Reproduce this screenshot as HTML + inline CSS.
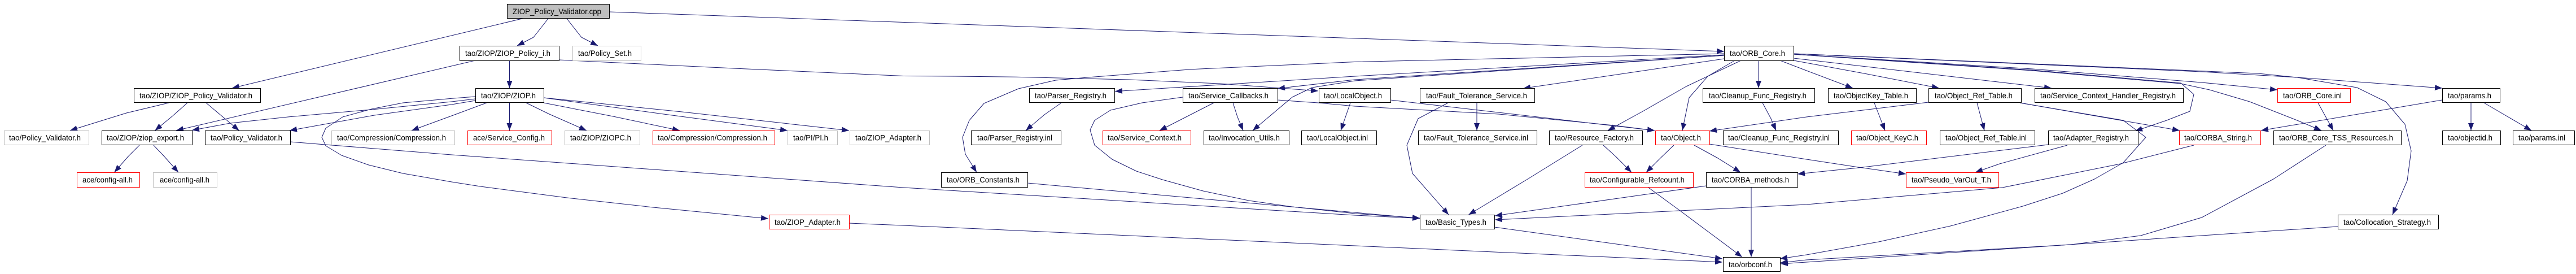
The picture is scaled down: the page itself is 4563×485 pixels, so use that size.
<!DOCTYPE html>
<html><head><meta charset="utf-8"><title>ZIOP_Policy_Validator.cpp include graph</title>
<style>
html,body{margin:0;padding:0;background:#fff}
svg{display:block}
.e polyline{fill:none;stroke:#191970;stroke-width:1;marker-end:url(#a);stroke-linejoin:round}
.k rect{fill:#fff;stroke:#000;stroke-width:1;shape-rendering:crispEdges}
.r rect{fill:#fff;stroke:#f00;stroke-width:1;shape-rendering:crispEdges}
.g rect{fill:#fff;stroke:#bfbfbf;stroke-width:1;shape-rendering:crispEdges}
text{font-family:"Liberation Sans",sans-serif;font-size:14px;fill:#000}
</style></head><body>
<svg xmlns="http://www.w3.org/2000/svg" width="4563" height="485" viewBox="0 0 4563 485">
<defs><marker id="a" markerUnits="userSpaceOnUse" markerWidth="14" markerHeight="11" refX="13" refY="5" orient="auto"><path d="M0,0L13,5L0,10Z" fill="#191970"/></marker></defs>
<rect width="4563" height="485" fill="#fff"/>
<g class="e">
<polyline points="929,32 411,156"/>
<polyline points="971,33 945,66 916,81"/>
<polyline points="1004,33 1030,66 1059,81"/>
<polyline points="1079,21 3054,91"/>
<polyline points="842,107 312,231"/>
<polyline points="902.5,107 902.5,156"/>
<polyline points="990,106 1300,121 1600,134.5 1691,135 1800,136.3 2000,141 2161,148 2335,161"/>
<polyline points="299,182 224,200 124,231"/>
<polyline points="332,182 306,205 274.5,231"/>
<polyline points="365,182 390,203 423.5,231"/>
<polyline points="247,257 227,277 202.5,305"/>
<polyline points="272,257 291,277 316,305"/>
<polyline points="514,251 800,274 1600,332 2400,381 2515,386.5"/>
<polyline points="1820,324 2515,386.5"/>
<polyline points="2095,172 2023,182 1967,195 1939,213 1931,230 1939,257 1970,282 2013,303 2059,318 2131,338 2212,355 2289,366 2400,378 2515,386"/>
<polyline points="842,175 800,180 658,194 510,207 408,218 354,228 340,230.5"/>
<polyline points="842,178 800,185 663,204 513,231"/>
<polyline points="842,171 800,174.3 714,182 658,193 607,207 577,227 570,243 577,258 605,275 653,292 714,307 800,322 851,330 1004,350 1157,367 1361,387"/>
<polyline points="862,182 800,205 729,231"/>
<polyline points="902.5,182 902.5,231"/>
<polyline points="932,182 973,202 1039,231"/>
<polyline points="963,182 1086,206 1204,231"/>
<polyline points="963,173 1183,203 1395,231"/>
<polyline points="963,173 1208,198 1504,231"/>
<polyline points="3054,104 2698,156.5"/>
<polyline points="3054,95 2400,109.5 2110,122.7 1926.5,137 1870,142 1804,157 1743,183 1717,213 1705,243 1710,273 1730,305"/>
<polyline points="3054,97 2400,135 2161,150 1975,161.7"/>
<polyline points="3054,98 2400,141 2263,156.7"/>
<polyline points="3054,98 2400,143 2324,155 2289,172 2219,231"/>
<polyline points="3084,107 2987,153 2910,197 2848,231"/>
<polyline points="3073,107 3025,135 2992,173 2980,231"/>
<polyline points="3115,107 3115,156"/>
<polyline points="3153,107 3200,125 3282,156"/>
<polyline points="3177,107 3302,130 3435,156"/>
<polyline points="3177,103 3634,156"/>
<polyline points="3177,96 3600,122 3900,146 4034,159"/>
<polyline points="3177,96 3600,125 3863,148 3914,159 3985,180 4069,213 4112,231"/>
<polyline points="3177,96 3600,124 3863,147 3886,167 3879,197 3838,213 3782,232"/>
<polyline points="3177,95 4000,130 4069,137 4326,156"/>
<polyline points="3177,95 3900,127 4069,137 4175,155 4226,180 4260,220 4271,267 4264,320 4238,380"/>
<polyline points="3578,182 3861,231"/>
<polyline points="3578,182 3761,213 3801,243 3761,288 3710,317 3654,342 3583,365 3455,400 3328,428 3200,451 3153,458"/>
<polyline points="3416,181 3200,207 3028,232"/>
<polyline points="3320,182 3332,213 3339,231"/>
<polyline points="3502,182 3515,231"/>
<polyline points="3122,182 3137,210 3146,231"/>
<polyline points="2463,177 2931,231"/>
<polyline points="2263,177 2335,182 2400,188 2655,202 2859,222 2931,231"/>
<polyline points="2392,182 2375,231"/>
<polyline points="2150,182 2054,231"/>
<polyline points="2184,182 2192,207 2202,231"/>
<polyline points="1880,182 1850,203 1817,231"/>
<polyline points="2616,182 2616,231"/>
<polyline points="2565,182 2512,210 2492,257 2502,307 2566,380"/>
<polyline points="2803,257 2706,317 2601.5,380"/>
<polyline points="2840,257 2862,277 2890,305"/>
<polyline points="2965,257 2941,280 2916,305"/>
<polyline points="3001,257 3043,280 3083,305"/>
<polyline points="3028,255 3200,282 3292,296 3376,308"/>
<polyline points="3022,329 2648,382"/>
<polyline points="3102,332 3102,455"/>
<polyline points="2920,332 2976,373 3086,455"/>
<polyline points="2647,402 3051,458"/>
<polyline points="1504,395 1600,399 2400,435 3051,464"/>
<polyline points="3886,257 3756,290 3547,332 3200,362 2648,389"/>
<polyline points="3628,256 3292,297 3184,308"/>
<polyline points="3662,257 3542,290 3499,305"/>
<polyline points="4120,257 4027,317 3900,385 3792,417 3669,433 3200,460 3154,465"/>
<polyline points="4141,401 3900,417 3608,437 3200,464 3154,467"/>
<polyline points="4106,182 4133,231"/>
<polyline points="4377,182 4377,231"/>
<polyline points="4400,182 4484,231"/>
<polyline points="4326,177 4005,231"/>
</g>
<g class="k">
<rect x="898.5" y="7.5" width="181" height="25" style="fill:#bfbfbf"/><text x="908" y="25" textLength="157" lengthAdjust="spacingAndGlyphs">ZIOP_Policy_Validator.cpp</text>
<rect x="814.5" y="81.5" width="176" height="26"/><text x="824" y="99" textLength="151" lengthAdjust="spacingAndGlyphs">tao/ZIOP/ZIOP_Policy_i.h</text>
<rect x="237.5" y="156.5" width="224" height="25"/><text x="247" y="174" textLength="200" lengthAdjust="spacingAndGlyphs">tao/ZIOP/ZIOP_Policy_Validator.h</text>
<rect x="842.5" y="156.5" width="121" height="25"/><text x="852" y="174" textLength="97" lengthAdjust="spacingAndGlyphs">tao/ZIOP/ZIOP.h</text>
<rect x="180.5" y="231.5" width="160" height="25"/><text x="189" y="248.5" textLength="137" lengthAdjust="spacingAndGlyphs">tao/ZIOP/ziop_export.h</text>
<rect x="363.5" y="231.5" width="151" height="25"/><text x="373" y="248.5" textLength="127" lengthAdjust="spacingAndGlyphs">tao/Policy_Validator.h</text>
<rect x="1823.5" y="156.5" width="151" height="25"/><text x="1833" y="174" textLength="127" lengthAdjust="spacingAndGlyphs">tao/Parser_Registry.h</text>
<rect x="2095.5" y="156.5" width="168" height="25"/><text x="2105" y="174" textLength="142" lengthAdjust="spacingAndGlyphs">tao/Service_Callbacks.h</text>
<rect x="2336.5" y="156.5" width="127" height="25"/><text x="2345" y="174" textLength="103" lengthAdjust="spacingAndGlyphs">tao/LocalObject.h</text>
<rect x="1720.5" y="231.5" width="159" height="25"/><text x="1731" y="248.5" textLength="133" lengthAdjust="spacingAndGlyphs">tao/Parser_Registry.inl</text>
<rect x="2132.5" y="231.5" width="151" height="25"/><text x="2141" y="248.5" textLength="126" lengthAdjust="spacingAndGlyphs">tao/Invocation_Utils.h</text>
<rect x="2305.5" y="231.5" width="133" height="25"/><text x="2315" y="248.5" textLength="108" lengthAdjust="spacingAndGlyphs">tao/LocalObject.inl</text>
<rect x="1667.5" y="305.5" width="153" height="26"/><text x="1677" y="323" textLength="129" lengthAdjust="spacingAndGlyphs">tao/ORB_Constants.h</text>
<rect x="3054.5" y="81.5" width="123" height="26"/><text x="3064" y="99" textLength="98" lengthAdjust="spacingAndGlyphs">tao/ORB_Core.h</text>
<rect x="2515.5" y="156.5" width="203" height="25"/><text x="2526" y="174" textLength="179" lengthAdjust="spacingAndGlyphs">tao/Fault_Tolerance_Service.h</text>
<rect x="3016.5" y="156.5" width="198" height="25"/><text x="3027" y="174" textLength="173" lengthAdjust="spacingAndGlyphs">tao/Cleanup_Func_Registry.h</text>
<rect x="2512.5" y="231.5" width="210" height="25"/><text x="2522" y="248.5" textLength="185" lengthAdjust="spacingAndGlyphs">tao/Fault_Tolerance_Service.inl</text>
<rect x="2744.5" y="231.5" width="165" height="25"/><text x="2754" y="248.5" textLength="140" lengthAdjust="spacingAndGlyphs">tao/Resource_Factory.h</text>
<rect x="3052.5" y="231.5" width="204" height="25"/><text x="3061" y="248.5" textLength="180" lengthAdjust="spacingAndGlyphs">tao/Cleanup_Func_Registry.inl</text>
<rect x="3022.5" y="305.5" width="162" height="26"/><text x="3032" y="323" textLength="137" lengthAdjust="spacingAndGlyphs">tao/CORBA_methods.h</text>
<rect x="2515.5" y="380.5" width="132" height="25"/><text x="2525" y="398" textLength="108" lengthAdjust="spacingAndGlyphs">tao/Basic_Types.h</text>
<rect x="3052.5" y="455.5" width="101" height="25"/><text x="3062" y="473" textLength="77" lengthAdjust="spacingAndGlyphs">tao/orbconf.h</text>
<rect x="3238.5" y="156.5" width="156" height="25"/><text x="3248" y="174" textLength="132" lengthAdjust="spacingAndGlyphs">tao/ObjectKey_Table.h</text>
<rect x="3416.5" y="156.5" width="164" height="25"/><text x="3427" y="174" textLength="138" lengthAdjust="spacingAndGlyphs">tao/Object_Ref_Table.h</text>
<rect x="3604.5" y="156.5" width="263" height="25"/><text x="3614" y="174" textLength="240" lengthAdjust="spacingAndGlyphs">tao/Service_Context_Handler_Registry.h</text>
<rect x="3436.5" y="231.5" width="168" height="25"/><text x="3446" y="248.5" textLength="144" lengthAdjust="spacingAndGlyphs">tao/Object_Ref_Table.inl</text>
<rect x="3628.5" y="231.5" width="159" height="25"/><text x="3637" y="248.5" textLength="134" lengthAdjust="spacingAndGlyphs">tao/Adapter_Registry.h</text>
<rect x="4027.5" y="231.5" width="226" height="25"/><text x="4037" y="248.5" textLength="202" lengthAdjust="spacingAndGlyphs">tao/ORB_Core_TSS_Resources.h</text>
<rect x="4326.5" y="156.5" width="102" height="25"/><text x="4336" y="174" textLength="77" lengthAdjust="spacingAndGlyphs">tao/params.h</text>
<rect x="4326.5" y="231.5" width="103" height="25"/><text x="4336" y="248.5" textLength="79" lengthAdjust="spacingAndGlyphs">tao/objectid.h</text>
<rect x="4451.5" y="231.5" width="109" height="25"/><text x="4461" y="248.5" textLength="83" lengthAdjust="spacingAndGlyphs">tao/params.inl</text>
<rect x="4141.5" y="380.5" width="178" height="25"/><text x="4151" y="398" textLength="155" lengthAdjust="spacingAndGlyphs">tao/Collocation_Strategy.h</text>
</g>
<g class="r">
<rect x="136.5" y="305.5" width="111" height="26"/><text x="146" y="323" textLength="89" lengthAdjust="spacingAndGlyphs">ace/config-all.h</text>
<rect x="828.5" y="231.5" width="149" height="25"/><text x="838" y="248.5" textLength="127" lengthAdjust="spacingAndGlyphs">ace/Service_Config.h</text>
<rect x="1156.5" y="231.5" width="216" height="25"/><text x="1165" y="248.5" textLength="194" lengthAdjust="spacingAndGlyphs">tao/Compression/Compression.h</text>
<rect x="1362.5" y="380.5" width="142" height="25"/><text x="1372" y="398" textLength="117" lengthAdjust="spacingAndGlyphs">tao/ZIOP_Adapter.h</text>
<rect x="1953.5" y="231.5" width="156" height="25"/><text x="1962" y="248.5" textLength="131" lengthAdjust="spacingAndGlyphs">tao/Service_Context.h</text>
<rect x="2932.5" y="231.5" width="96" height="25"/><text x="2942" y="248.5" textLength="71" lengthAdjust="spacingAndGlyphs">tao/Object.h</text>
<rect x="2807.5" y="305.5" width="192" height="26"/><text x="2816" y="323" textLength="168" lengthAdjust="spacingAndGlyphs">tao/Configurable_Refcount.h</text>
<rect x="3279.5" y="231.5" width="133" height="25"/><text x="3288" y="248.5" textLength="110" lengthAdjust="spacingAndGlyphs">tao/Object_KeyC.h</text>
<rect x="3860.5" y="231.5" width="144" height="25"/><text x="3869" y="248.5" textLength="120" lengthAdjust="spacingAndGlyphs">tao/CORBA_String.h</text>
<rect x="3376.5" y="305.5" width="164" height="26"/><text x="3386" y="323" textLength="141" lengthAdjust="spacingAndGlyphs">tao/Pseudo_VarOut_T.h</text>
<rect x="4034.5" y="156.5" width="129" height="25"/><text x="4044" y="174" textLength="104" lengthAdjust="spacingAndGlyphs">tao/ORB_Core.inl</text>
</g>
<g class="g">
<rect x="7.5" y="231.5" width="150" height="25"/><text x="16" y="248.5" textLength="127" lengthAdjust="spacingAndGlyphs">tao/Policy_Validator.h</text>
<rect x="271.5" y="305.5" width="113" height="26"/><text x="283" y="323" textLength="88" lengthAdjust="spacingAndGlyphs">ace/config-all.h</text>
<rect x="587.5" y="231.5" width="218" height="25"/><text x="597" y="248.5" textLength="193" lengthAdjust="spacingAndGlyphs">tao/Compression/Compression.h</text>
<rect x="1014.5" y="81.5" width="121" height="26"/><text x="1024" y="99" textLength="95" lengthAdjust="spacingAndGlyphs">tao/Policy_Set.h</text>
<rect x="1000.5" y="231.5" width="133" height="25"/><text x="1010" y="248.5" textLength="108" lengthAdjust="spacingAndGlyphs">tao/ZIOP/ZIOPC.h</text>
<rect x="1395.5" y="231.5" width="88" height="25"/><text x="1405" y="248.5" textLength="62" lengthAdjust="spacingAndGlyphs">tao/PI/PI.h</text>
<rect x="1505.5" y="231.5" width="141" height="25"/><text x="1515" y="248.5" textLength="117" lengthAdjust="spacingAndGlyphs">tao/ZIOP_Adapter.h</text>
</g>
</svg>
</body></html>
